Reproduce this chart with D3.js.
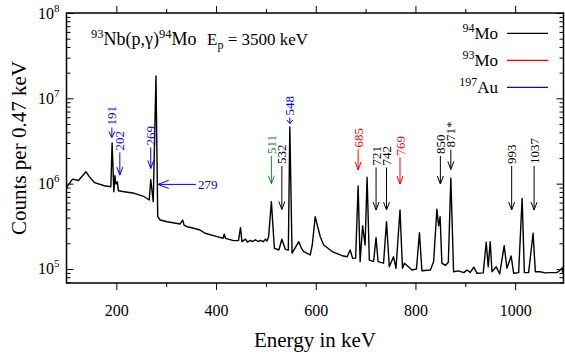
<!DOCTYPE html>
<html lang="en">
<head>
<meta charset="utf-8">
<script src="https://cdn.jsdelivr.net/npm/d3@7"></script>
<style>
  body { margin: 0; background: #fff; }
  svg text { font-family: "Liberation Serif", "Times New Roman", serif; }
</style>
</head>
<body>
<svg id="chart" width="565" height="356"></svg>
<script>
// spectrum (energy in keV, counts per 0.47 keV)
var energy = [100, 112, 124, 139, 146, 156, 176, 189, 191.5, 195,
  197, 199, 202, 204, 216, 236, 256, 266, 269, 274,
  279.5, 283, 288, 302, 328, 333, 336, 342, 355, 368,
  378, 402, 414, 416.5, 419, 435, 445, 449, 452, 459,
  463, 469, 473, 479, 485, 489, 495, 499, 502, 505.5,
  511, 517, 526, 532, 539, 545, 548, 552.5, 566, 571,
  576, 589, 593, 599, 603, 609, 616, 633, 653, 663,
  669, 674, 680, 685, 689, 694, 699, 703, 707.5, 716,
  721, 725, 736, 742, 747.5, 756, 761, 769, 774, 778,
  793, 802, 808, 813, 830, 836.5, 843, 846.5, 849.5, 853,
  860, 866, 871, 876.5, 886, 897, 903.5, 910, 917, 923.5,
  936, 942, 946, 950, 953.5, 962, 969, 978, 983.5, 992,
  997, 1007, 1014, 1018.5, 1027, 1036, 1040.5, 1050, 1060, 1070,
  1084, 1090.5, 1094, 1095.5, 1097];
var counts = [9.0e5, 1.13e6, 1.09e6, 1.38e6, 1.20e6, 1.03e6, 9.46e5, 9.2e5, 3.0e6, 8.05e5,
  1.24e6, 9.9e5, 1.05e6, 8.27e5, 8.05e5, 7.71e5, 7.03e5, 6.43e5, 1.12e6, 6.15e5,
  1.83e7, 4.10e5, 3.75e5, 3.58e5, 3.37e5, 3.75e5, 3.24e5, 3.13e5, 3.0e5, 2.86e5,
  2.62e5, 2.39e5, 2.29e5, 2.57e5, 2.28e5, 2.15e5, 2.15e5, 3.05e5, 2.09e5, 2.24e5,
  2.07e5, 2.16e5, 2.09e5, 2.2e5, 2.09e5, 2.16e5, 2.09e5, 2.24e5, 2.12e5, 2.39e5,
  6.15e5, 1.75e5, 1.67e5, 2.23e5, 1.70e5, 1.67e5, 4.61e6, 1.53e5, 2.09e5, 1.76e5,
  1.60e5, 1.46e5, 1.91e5, 4.10e5, 3.28e5, 2.39e5, 1.91e5, 1.60e5, 1.43e5, 1.39e5,
  1.67e5, 1.33e5, 1.34e5, 9.39e5, 1.22e5, 3.22e5, 1.91e5, 1.19e6, 1.27e5, 1.22e5,
  2.33e5, 1.22e5, 1.17e5, 3.58e5, 1.06e5, 1.39e5, 1.02e5, 4.91e5, 1.02e5, 1.17e5,
  9.73e4, 1.0e5, 2.66e5, 9.55e4, 9.73e4, 1.22e5, 5.01e5, 3.19e5, 4.10e5, 1.17e5,
  1.1e5, 1.2e5, 1.16e6, 9.29e4, 9.5e4, 9.06e4, 9.73e4, 9.1e4, 1.05e5, 8.9e4,
  9.0e4, 2.06e5, 1.06e5, 2.09e5, 9.29e4, 1.06e5, 8.73e4, 1.88e5, 1.02e5, 1.42e5,
  8.9e4, 9.06e4, 6.73e5, 9.06e4, 9.06e4, 2.62e5, 9.29e4, 9.29e4, 9.0e4, 9.06e4,
  9.06e4, 9.73e4, 1.02e5, 9.2e4, 1.1e5];

// axis ticks
var xMajor = [200, 400, 600, 800, 1000];
var xMinor = [300, 500, 700, 900];
var yDecades = [5, 6, 7, 8];

// peak markers: where the arrow sits, label, colour, label foot and arrow tip (counts)
var annEnergy = [191, 207, 269, 511, 532, 548, 685, 721, 742, 769, 850, 871, 993, 1038];
var annLabel = ["191", "202", "269", "511", "532", "548", "685", "721", "742", "769", "850", "871*", "993", "1037"];
var annColor = ["#0000ff", "#0000ff", "#0000ff", "#228b22", "#000", "#0000ff", "#ff0000", "#000", "#000", "#ff0000", "#000", "#000", "#000", "#000"];
var annFoot = [4.55e6, 2.32e6, 2.66e6, 2.11e6, 1.61e6, 5.96e6, 2.51e6, 1.55e6, 1.55e6, 2.03e6, 2.11e6, 2.51e6, 1.61e6, 1.61e6];
var annTip = [3.48e6, 1.26e6, 1.51e6, 1.0e6, 4.98e5, 5.07e6, 1.45e6, 4.91e5, 4.91e5, 9.9e5, 9.9e5, 1.47e6, 4.91e5, 4.91e5];

// horizontal marker for the 279 keV line
var sideLabel = "279", sideTextEnergy = 364, sideTipEnergy = 283, sideCounts = 9.8e5;

// legend
var legMass = ["94", "93", "197"];
var legElem = ["Mo", "Mo", "Au"];
var legColor = ["#000", "#ff0000", "#0000ff"];

var svg = d3.select("#chart");
var pL = 66.5, pR = 563.5, pT = 13, pB = 283;

var x = d3.scaleLinear().domain([100, 1097]).range([pL, pR]);
var y = d3.scaleLog().domain([6.85e4, 1e8]).range([pB, pT]);

var yMajor = yDecades.map(function(d) { return Math.pow(10, d); });
var yMinor = [];
[4, 5, 6, 7].forEach(function(d) {
  for (var m = 2; m <= 9; m++) {
    var v = m * Math.pow(10, d);
    if (v >= 6.85e4 && v <= 1e8) yMinor.push(v);
  }
});

function clean(g) {
  g.select(".domain").remove();
  g.selectAll("line").attr("stroke", "#000").attr("stroke-width", 1);
}

// x axes
svg.append("g").attr("transform", "translate(0," + pB + ")")
  .call(d3.axisBottom(x).tickValues(xMajor).tickSize(7).tickPadding(15).tickFormat(d3.format("d")))
  .call(clean)
  .call(function(g) { g.selectAll("text").attr("font-size", 16).attr("font-family", "Liberation Serif").attr("fill", "#000"); });
svg.append("g").attr("transform", "translate(0," + pB + ")")
  .call(d3.axisBottom(x).tickValues(xMinor).tickSize(4).tickFormat(""))
  .call(clean);
svg.append("g").attr("transform", "translate(0," + pT + ")")
  .call(d3.axisTop(x).tickValues(xMajor).tickSize(7).tickFormat(""))
  .call(clean);
svg.append("g").attr("transform", "translate(0," + pT + ")")
  .call(d3.axisTop(x).tickValues(xMinor).tickSize(4).tickFormat(""))
  .call(clean);

// y axes, ticks inside
svg.append("g").attr("transform", "translate(" + pL + ",0)")
  .call(d3.axisLeft(y).tickValues(yMajor).tickSize(-7).tickFormat(""))
  .call(clean);
svg.append("g").attr("transform", "translate(" + pL + ",0)")
  .call(d3.axisLeft(y).tickValues(yMinor).tickSize(-4).tickFormat(""))
  .call(clean);
svg.append("g").attr("transform", "translate(" + pR + ",0)")
  .call(d3.axisRight(y).tickValues(yMajor).tickSize(-7).tickFormat(""))
  .call(clean);
svg.append("g").attr("transform", "translate(" + pR + ",0)")
  .call(d3.axisRight(y).tickValues(yMinor).tickSize(-4).tickFormat(""))
  .call(clean);

// 10^n labels
svg.append("g").selectAll("text").data(yDecades).enter()
  .append("text")
  .attr("x", 59.5)
  .attr("y", function(d) { return y(Math.pow(10, d)) + 5.5; })
  .attr("text-anchor", "end")
  .attr("font-size", 16)
  .each(function(d) {
    var t = d3.select(this);
    t.append("tspan").text("10");
    t.append("tspan").attr("font-size", 11).attr("dy", -7).text(d);
  });

// spectrum
var pts = d3.zip(energy, counts);
svg.append("path")
  .datum(pts)
  .attr("fill", "none")
  .attr("stroke", "#000")
  .attr("stroke-width", 1.4)
  .attr("stroke-linejoin", "round")
  .attr("d", d3.line().x(function(d) { return x(d[0]); }).y(function(d) { return y(d[1]); }));

// frame
svg.append("rect")
  .attr("x", pL).attr("y", pT)
  .attr("width", pR - pL).attr("height", pB - pT)
  .attr("fill", "none").attr("stroke", "#000").attr("stroke-width", 1.5);

// peak arrows
var ann = svg.append("g");
annEnergy.forEach(function(e, i) {
  var xi = x(e), yf = y(annFoot[i]), yt = y(annTip[i]);
  var hl = Math.min(8, (yt - yf) * 0.6);
  ann.append("line")
    .attr("x1", xi).attr("x2", xi).attr("y1", yf).attr("y2", yt)
    .attr("stroke", annColor[i]).attr("stroke-width", 1);
  ann.append("path")
    .attr("d", "M" + (xi - 3) + "," + (yt - hl) + "L" + xi + "," + yt + "L" + (xi + 3) + "," + (yt - hl))
    .attr("fill", "none").attr("stroke", annColor[i]).attr("stroke-width", 1);
  ann.append("text")
    .attr("transform", "translate(" + xi + "," + (yf - 2) + ") rotate(-90)")
    .attr("dy", "0.35em")
    .attr("font-size", 13)
    .attr("fill", annColor[i])
    .text(annLabel[i]);
});

var sy = y(sideCounts), sx0 = x(sideTextEnergy), sx1 = x(sideTipEnergy);
ann.append("line").attr("x1", sx0 - 2).attr("x2", sx1).attr("y1", sy).attr("y2", sy)
  .attr("stroke", "#0000ff").attr("stroke-width", 1);
ann.append("path")
  .attr("d", "M" + (sx1 + 11) + "," + (sy - 4) + "L" + sx1 + "," + sy + "L" + (sx1 + 11) + "," + (sy + 4))
  .attr("fill", "none").attr("stroke", "#0000ff").attr("stroke-width", 1);
ann.append("text").attr("x", sx0).attr("y", sy).attr("dy", "0.35em")
  .attr("font-size", 13).attr("fill", "#0000ff").text(sideLabel);

// title
var title = svg.append("text").attr("x", 91).attr("y", 45).attr("font-size", 18);
title.append("tspan").attr("font-size", 12.5).attr("dy", -7).text("93");
title.append("tspan").attr("dy", 7).text("Nb(p,\u03b3)");
title.append("tspan").attr("font-size", 12.5).attr("dy", -7).text("94");
title.append("tspan").attr("dy", 7).text("Mo");
var ep = svg.append("text").attr("x", 207).attr("y", 45).attr("font-size", 17);
ep.append("tspan").text("E");
ep.append("tspan").attr("font-size", 12).attr("dy", 4).text("p");
ep.append("tspan").attr("dy", -4).text(" = 3500 keV");

// legend
legMass.forEach(function(m, i) {
  var ly = 33.3 + i * 27;
  var t = svg.append("text").attr("x", 498).attr("y", ly + 5.5)
    .attr("text-anchor", "end").attr("font-size", 17);
  t.append("tspan").attr("font-size", 12).attr("dy", -7).text(m);
  t.append("tspan").attr("dy", 7).text(legElem[i]);
  svg.append("line").attr("x1", 507).attr("x2", 548).attr("y1", ly).attr("y2", ly)
    .attr("stroke", legColor[i]).attr("stroke-width", 1.2);
});

// axis titles
svg.append("text")
  .attr("x", (pL + pR) / 2).attr("y", 347)
  .attr("text-anchor", "middle").attr("font-size", 21)
  .text("Energy in keV");
svg.append("text")
  .attr("transform", "translate(26," + ((pT + pB) / 2) + ") rotate(-90)")
  .attr("text-anchor", "middle").attr("font-size", 21)
  .text("Counts per 0.47 keV");
</script>
</body>
</html>
